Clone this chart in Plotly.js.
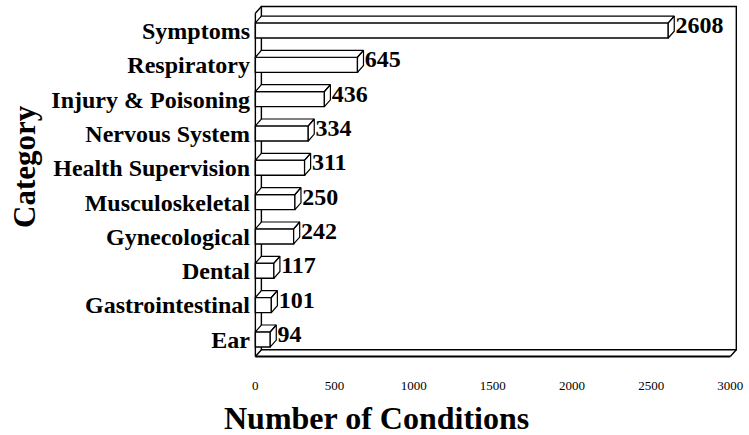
<!DOCTYPE html>
<html>
<head>
<meta charset="utf-8">
<script src="https://cdn.plot.ly/plotly-3.0.1.min.js"></script>
<style>html,body{margin:0;padding:0;background:#fff}#chart{width:749px;height:435px}</style>
</head>
<body>
<div id="chart"></div>
<script>
const categories = ["Symptoms","Respiratory","Injury & Poisoning","Nervous System","Health Supervision","Musculoskeletal","Gynecological","Dental","Gastrointestinal","Ear"];
const counts = [2608, 645, 436, 334, 311, 250, 242, 117, 101, 94];
const xTickVals = [0, 500, 1000, 1500, 2000, 2500, 3000];

const n = categories.length;
const yPos = categories.map((c, i) => n - 1 - i);
const X_MAX = 3000;
const DX = 38;      // depth in x units
const DY = 0.2;     // depth in category units
const HALF = 0.22;  // half bar thickness

// top and side faces of each bar
const fx = [], fy = [];
counts.forEach((v, i) => {
  const y = yPos[i];
  fx.push(0, DX, v + DX, v, 0, null);
  fy.push(y + HALF, y + HALF + DY, y + HALF + DY, y + HALF, y + HALF, null);
  fx.push(v, v + DX, v + DX, v, v, null);
  fy.push(y - HALF, y - HALF + DY, y + HALF + DY, y + HALF, y - HALF, null);
});

const serif = "Liberation Serif, Times New Roman, serif";
const yBot = -0.5, yTop = n - 0.5;

const L = {color: "#000", width: 1.4};
const shapes = [
  {type: "rect", xref: "x", yref: "y", x0: DX, x1: X_MAX + DX, y0: yBot + DY, y1: yTop + DY, line: L, layer: "below"},
  {type: "line", xref: "x", yref: "y", x0: 0, x1: 0, y0: yBot, y1: yTop, line: L, layer: "below"},
  {type: "line", xref: "x", yref: "y", x0: 0, x1: DX, y0: yTop, y1: yTop + DY, line: L, layer: "below"},
  {type: "line", xref: "x", yref: "y", x0: 0, x1: DX, y0: yBot, y1: yBot + DY, line: L, layer: "below"},
  {type: "line", xref: "x", yref: "y", x0: 0, x1: X_MAX, y0: yBot, y1: yBot, line: {color: "#000", width: 2}, layer: "below"},
  {type: "line", xref: "x", yref: "y", x0: X_MAX, x1: X_MAX + DX, y0: yBot, y1: yBot + DY, line: L, layer: "below"}
];

const traces = [
  {
    type: "scatter", mode: "lines", x: fx, y: fy, fill: "toself", fillcolor: "#fff",
    line: {color: "#000", width: 1.2}, hoverinfo: "skip", showlegend: false
  },
  {
    type: "bar", orientation: "h", x: counts, y: yPos, width: 2 * HALF, base: 0,
    marker: {color: "#fff", line: {color: "#000", width: 1.4}},
    hoverinfo: "x", showlegend: false
  },
  {
    type: "scatter", mode: "text", x: counts.map(v => v + DX + 8), y: yPos.map(y => y + DY / 2),
    text: counts.map(String), textposition: "middle right", cliponaxis: false,
    textfont: {family: serif, size: 24, weight: "bold", color: "#000"},
    hoverinfo: "skip", showlegend: false
  }
];

const layout = {
  width: 749, height: 435,
  margin: {l: 253, r: 10, t: 3, b: 75},
  paper_bgcolor: "#fff", plot_bgcolor: "#fff",
  shapes: shapes,
  xaxis: {
    range: [-15, 3055], showgrid: false, zeroline: false, showline: false,
    tickvals: xTickVals, ticktext: xTickVals.map(String), ticks: "",
    ticklabelstandoff: 16,
    tickfont: {family: serif, size: 13, color: "#000"}
  },
  yaxis: {
    range: [-0.6, n - 0.5 + DY + 0.1], showgrid: false, zeroline: false, showline: false,
    tickvals: yPos, ticktext: categories, ticks: "",
    ticklabelstandoff: 2,
    tickfont: {family: serif, size: 24, weight: "bold", color: "#000"}
  },
  annotations: [
    {text: "Number of Conditions", xref: "paper", yref: "paper", x: (376 - 253) / 486, y: -(418 - 360) / 357,
     xanchor: "center", yanchor: "middle", showarrow: false,
     font: {family: serif, size: 32, weight: "bold", color: "#000"}},
    {text: "Category", xref: "paper", yref: "paper", x: (24 - 253) / 486, y: (360 - 167) / 357,
     xanchor: "center", yanchor: "middle", showarrow: false, textangle: -90,
     font: {family: serif, size: 31, weight: "bold", color: "#000"}}
  ],
  font: {family: serif, color: "#000"}
};

Plotly.newPlot("chart", traces, layout, {displayModeBar: false, staticPlot: true});
</script>
</body>
</html>
